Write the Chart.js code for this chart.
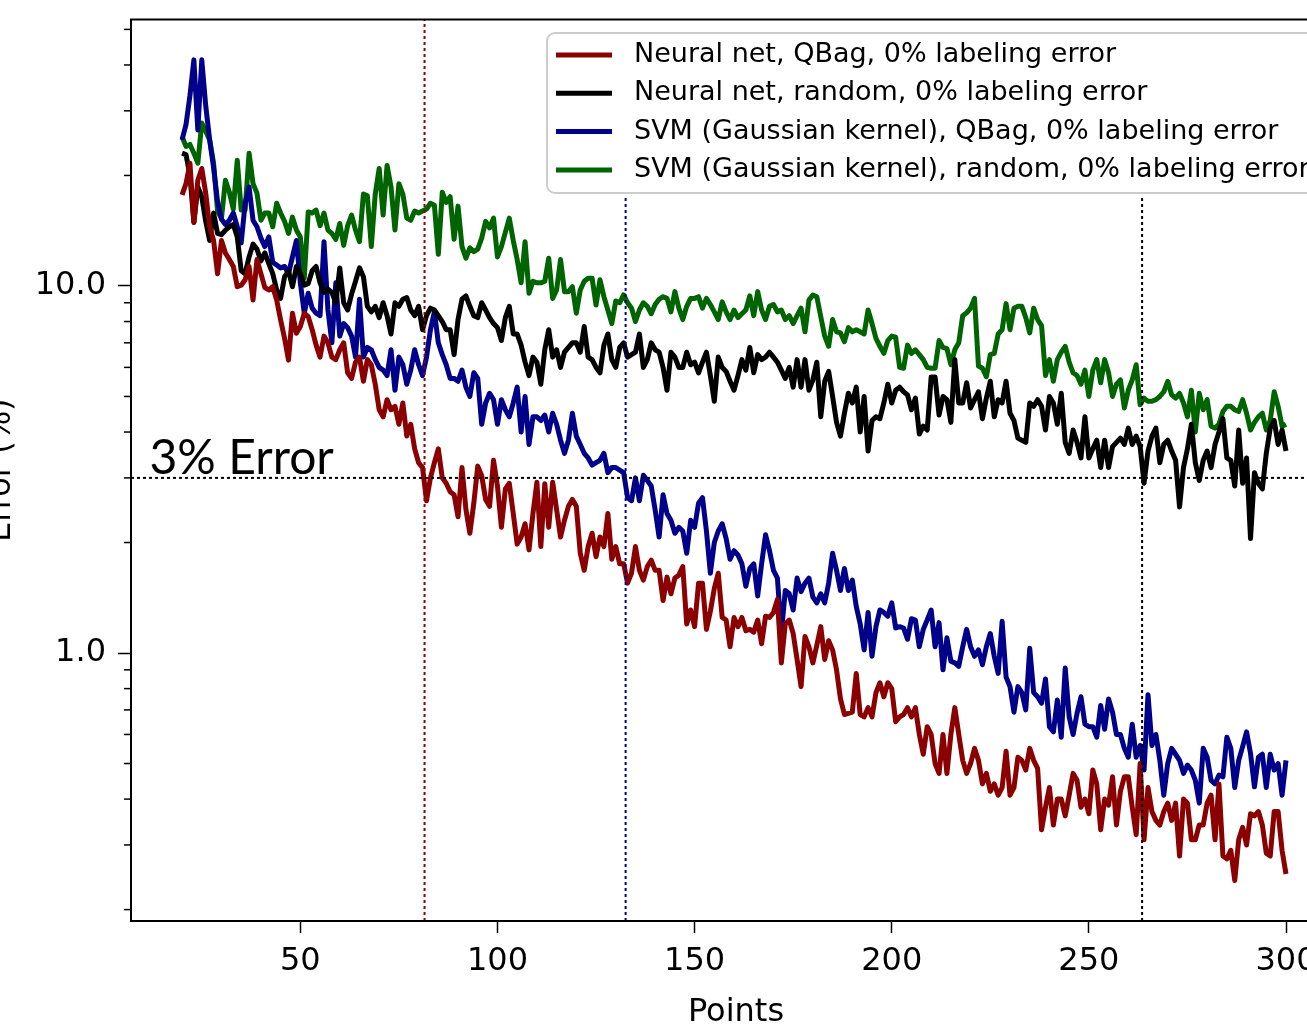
<!doctype html>
<html lang="en">
<head>
    <meta charset="utf-8">
    <title>Error vs points</title>
    <script src="https://cdn.jsdelivr.net/npm/chart.js@4.4.0/dist/chart.umd.min.js"></script>
    <style>
        html, body { margin: 0; padding: 0; background: #fff; overflow: hidden; }
        #wrap { position: absolute; left: -40px; top: 0; width: 1400px; height: 1026px; }
    </style>
</head>
<body>
<div id="wrap"><canvas id="myChart"></canvas></div>
<script type="text/javascript">
    // x = number of points, one value per point from 20 to 300
    const firstPoint = 20

    const nnQBag = [
        17.7, 19.0, 21.6, 14.9, 19.4, 20.9, 17.9, 14.5, 13.3, 10.8,
        13.3, 12.3, 11.8, 11.3, 9.95, 10.05, 10.4, 11.3, 9.16, 11.8,
        10.8, 9.9, 9.75, 9.95, 9.16, 8.08, 7.2, 6.28, 8.43, 7.43,
        7.75, 8.43, 8.25, 7.6, 6.9, 6.4, 7.3, 7.0, 6.4, 6.3,
        6.7, 7.0, 5.8, 5.6, 6.2, 6.4, 5.5, 6.3, 6.1, 5.4,
        4.6, 4.4, 4.9, 4.6, 4.7, 4.2, 4.8, 3.9, 4.2, 3.6,
        3.3, 3.2, 2.6, 3.0, 3.3, 3.6, 3.0, 2.9, 2.75, 2.7,
        2.35, 3.2, 2.46, 2.12, 2.56, 3.23, 3.04, 2.62, 2.51, 3.35,
        2.85, 2.2, 2.8, 2.9, 2.4, 1.98, 2.07, 2.25, 1.91, 2.4,
        2.92, 1.95, 2.89, 2.2, 2.92, 2.46, 2.07, 2.3, 2.51, 2.62,
        2.51, 1.87, 1.68, 1.95, 2.12, 1.83, 2.07, 1.95, 2.4, 1.8,
        1.95, 1.75, 1.75, 1.55, 1.65, 1.95, 1.68, 1.58, 1.72, 1.79,
        1.68, 1.68, 1.39, 1.61, 1.45, 1.6, 1.63, 1.72, 1.2, 1.31,
        1.18, 1.55, 1.55, 1.16, 1.3, 1.5, 1.65, 1.25, 1.23, 1.04,
        1.25, 1.18, 1.25, 1.15, 1.16, 1.14, 1.23, 1.06, 1.26, 1.25,
        1.29, 1.4, 0.94, 1.2, 1.23, 1.13, 0.96, 0.81, 1.11, 1.04,
        0.94, 1.05, 1.18, 0.96, 1.08, 1.02, 0.9, 0.75, 0.68, 0.685,
        0.69, 0.88, 0.68, 0.67, 0.71, 0.67, 0.78, 0.83, 0.76, 0.83,
        0.8, 0.65, 0.67, 0.68, 0.71, 0.67, 0.71, 0.6, 0.53, 0.63,
        0.6, 0.5, 0.47, 0.6, 0.47, 0.6, 0.71, 0.6, 0.51, 0.47,
        0.5, 0.55, 0.51, 0.44, 0.47, 0.42, 0.44, 0.41, 0.43, 0.54,
        0.41, 0.43, 0.52, 0.51, 0.48, 0.55, 0.51, 0.485, 0.33, 0.38,
        0.43, 0.34, 0.4, 0.4, 0.36, 0.41, 0.47, 0.45, 0.38, 0.4,
        0.365, 0.48, 0.44, 0.33, 0.4, 0.385, 0.46, 0.34, 0.42, 0.46,
        0.46, 0.38, 0.32, 0.5, 0.31, 0.43, 0.37, 0.35, 0.34, 0.37,
        0.39, 0.35, 0.39, 0.28, 0.4, 0.39, 0.31, 0.31, 0.34, 0.34,
        0.39, 0.41, 0.31, 0.44, 0.28, 0.275, 0.29, 0.24, 0.31, 0.335,
        0.3, 0.365, 0.36, 0.37, 0.34, 0.285, 0.28, 0.37, 0.37, 0.29,
        0.25
    ]

    const nnRandom = [
        23.0, 22.8, 20.0, 14.9, 18.6, 17.5, 15.0, 13.3, 15.8, 13.9,
        13.8, 14.2, 14.5, 14.7, 13.6, 11.0, 10.8, 12.0, 13.0, 12.6,
        11.7, 12.3, 11.5, 10.8, 9.75, 9.25, 10.6, 11.0, 9.95, 11.3,
        10.8, 10.05, 10.15, 11.0, 11.3, 10.2, 9.6, 9.8, 9.6, 9.0,
        11.2, 9.0, 8.6, 9.5, 10.3, 11.2, 10.6, 8.8, 8.5, 8.8,
        8.2, 9.0, 8.3, 7.4, 9.0, 8.8, 9.2, 9.3, 8.6, 8.3,
        8.8, 7.6, 8.3, 8.7, 8.6, 8.3, 8.0, 7.6, 7.6, 6.5,
        8.1, 9.2, 9.4, 8.8, 8.3, 8.2, 9.0, 8.6, 8.2, 7.9,
        7.7, 7.1, 8.2, 8.8, 7.4, 7.4, 6.9, 6.2, 5.7, 6.4,
        6.2, 5.4, 6.7, 7.6, 6.4, 6.7, 6.0, 6.6, 6.8, 7.0,
        7.0, 6.6, 7.75, 6.4, 6.3, 6.0, 5.8, 6.9, 7.4, 6.3,
        6.0, 6.8, 7.0, 6.4, 6.5, 6.6, 7.4, 6.0, 6.3, 7.0,
        6.7, 6.6, 6.0, 5.2, 6.6, 6.4, 6.0, 6.0, 6.6, 6.1,
        6.2, 5.8, 6.2, 6.6, 5.7, 4.85, 6.4, 6.0, 5.85, 5.5,
        5.2, 5.7, 6.3, 5.9, 6.8, 5.8, 6.5, 6.3, 6.4, 6.6,
        6.4, 6.2, 5.9, 5.6, 6.0, 5.3, 6.3, 5.3, 6.3, 5.2,
        5.55, 6.2, 4.4, 5.5, 5.85, 5.0, 4.25, 3.9, 4.5, 5.1,
        4.8, 5.3, 4.0, 5.0, 3.55, 4.3, 4.4, 4.35, 4.8, 5.4,
        4.8, 5.2, 5.3, 5.15, 5.05, 4.6, 4.95, 3.95, 4.15, 4.05,
        5.65, 5.65, 4.45, 5.0, 4.9, 4.25, 6.3, 4.8, 4.8, 5.45,
        4.65, 4.9, 5.15, 4.35, 4.95, 5.5, 4.4, 4.9, 4.8, 5.5,
        4.5, 4.3, 3.85, 3.8, 3.75, 4.8, 4.7, 4.9, 4.7, 4.05,
        5.0, 4.8, 4.2, 5.1, 3.75, 3.5, 4.05, 3.75, 3.4, 4.4,
        3.4, 3.6, 3.8, 3.2, 3.8, 3.2, 3.65, 3.75, 3.85, 3.7,
        4.1, 3.7, 3.9, 3.65, 2.9, 3.55, 3.9, 4.1, 3.3, 3.7,
        3.8, 3.55, 3.35, 2.5, 3.2, 3.6, 4.2, 3.3, 2.95, 3.35,
        3.55, 3.2, 3.7, 4.0, 4.35, 3.4, 3.35, 2.85, 4.05, 2.9,
        3.4, 2.05, 3.1, 2.9, 2.8, 3.5, 4.1, 4.3, 3.7, 4.05,
        3.55
    ]

    const svmQBag = [
        25.0, 27.5, 33.0, 41.3, 26.6, 41.3, 31.0, 25.0, 21.0, 17.0,
        15.2, 14.7, 15.1, 15.8, 14.5, 13.1, 16.8, 18.6, 15.1, 14.5,
        13.5, 12.8, 13.6, 11.6, 11.4, 11.2, 11.3, 10.8, 12.0, 13.3,
        10.2, 8.43, 9.55, 8.7, 8.43, 8.3, 13.2, 8.6, 7.0, 10.2,
        7.3, 7.9, 7.7, 7.3, 6.4, 9.2, 6.4, 6.8, 6.7, 6.3,
        6.0, 5.9, 5.7, 6.7, 5.2, 6.4, 6.1, 5.4, 5.9, 6.7,
        6.1, 5.7, 6.4, 7.6, 8.5, 7.0, 6.5, 6.1, 5.6, 5.6,
        5.5, 5.9, 5.3, 5.0, 5.8, 5.6, 4.2, 4.8, 5.1, 4.9,
        4.2, 4.9, 4.6, 4.4, 4.8, 5.3, 4.0, 5.0, 3.7, 4.4,
        4.4, 4.3, 4.45, 4.0, 4.5, 4.2, 3.8, 3.5, 3.8, 4.5,
        3.9, 3.7, 3.5, 3.4, 3.25, 3.3, 3.35, 3.5, 3.1, 3.2,
        3.2, 3.15, 3.1, 2.65, 2.6, 3.0, 2.6, 3.05, 2.95, 2.85,
        2.45, 2.07, 2.7, 2.4, 2.3, 2.12, 2.2, 2.15, 1.87, 2.3,
        2.2, 2.56, 2.65, 2.15, 1.65, 2.0, 2.15, 2.25, 2.05, 1.8,
        1.9, 1.85, 1.75, 1.52, 1.7, 1.75, 1.43, 1.75, 2.1, 1.9,
        1.68, 1.6, 1.13, 1.48, 1.45, 1.31, 1.6, 1.47, 1.55, 1.6,
        1.42, 1.37, 1.45, 1.37, 1.55, 1.87, 1.68, 1.48, 1.7, 1.48,
        1.58, 1.34, 1.2, 1.02, 1.29, 0.98, 1.18, 1.31, 1.29, 1.26,
        1.37, 1.17, 1.18, 1.17, 1.09, 1.24, 1.23, 1.04, 1.16, 1.23,
        1.31, 1.04, 1.21, 0.9, 1.1, 0.95, 0.94, 0.92, 1.04, 1.16,
        1.04, 0.98, 1.02, 0.93, 1.04, 1.13, 0.98, 0.88, 1.22, 0.86,
        0.81, 0.69, 0.81, 0.78, 0.7, 1.03, 0.78, 0.76, 0.73, 0.85,
        0.63, 0.61, 0.745, 0.59, 0.91, 0.67, 0.6, 0.685, 0.76, 0.64,
        0.63, 0.63, 0.59, 0.72, 0.62, 0.75, 0.69, 0.6, 0.6, 0.55,
        0.52, 0.64, 0.52, 0.56, 0.48, 0.77, 0.56, 0.6, 0.51, 0.41,
        0.5, 0.55, 0.53, 0.51, 0.47, 0.495, 0.48, 0.45, 0.39, 0.55,
        0.52, 0.45, 0.44, 0.465, 0.46, 0.59, 0.55, 0.43, 0.51, 0.556,
        0.61, 0.533, 0.432, 0.52, 0.53, 0.43, 0.53, 0.48, 0.5, 0.41,
        0.51
    ]

    const svmRandom = [
        25.5, 24.0, 24.3, 23.0, 21.6, 27.8, 26.4, 25.0, 21.6, 16.0,
        15.3, 19.4, 18.0, 16.2, 22.0, 16.1, 16.1, 23.0, 19.0, 17.9,
        15.1, 15.8, 15.8, 14.5, 16.8, 15.8, 15.0, 13.9, 15.4, 14.2,
        13.6, 10.5, 15.9, 15.8, 16.1, 14.6, 15.8, 14.2, 13.9, 13.4,
        14.8, 12.9, 14.6, 15.6, 14.2, 13.2, 17.8, 17.6, 12.8, 17.8,
        20.9, 15.6, 21.3, 18.6, 14.2, 19.0, 17.8, 15.3, 15.1, 16.0,
        15.8, 16.0, 16.2, 16.8, 16.6, 12.2, 18.0, 16.9, 17.5, 13.4,
        16.5, 12.8, 11.9, 12.7, 12.4, 12.6, 13.5, 15.0, 14.4, 15.3,
        12.0, 12.8, 14.0, 15.3, 13.3, 11.8, 10.2, 13.2, 9.55, 10.3,
        10.2, 10.2, 10.3, 11.9, 9.25, 9.75, 11.8, 9.65, 9.65, 9.95,
        8.43, 9.75, 10.3, 10.5, 10.5, 8.87, 10.4, 9.35, 8.6, 7.9,
        9.1, 9.0, 9.45, 9.0, 8.7, 8.0, 8.6, 9.0, 8.8, 8.4,
        8.9, 9.2, 9.35, 9.25, 8.5, 9.65, 8.7, 8.1, 8.8, 9.25,
        9.25, 9.35, 8.7, 9.25, 8.9, 8.5, 8.1, 9.05, 8.5, 8.1,
        8.6, 8.2, 8.4, 8.6, 9.4, 8.3, 9.65, 8.6, 8.1, 8.8,
        8.9, 8.5, 8.6, 8.1, 8.3, 7.9, 8.3, 8.7, 7.5, 9.15,
        9.45, 9.35, 8.25, 7.3, 6.85, 8.1, 7.5, 7.45, 7.05, 7.7,
        7.5, 7.6, 7.5, 7.4, 8.6, 7.9, 7.2, 6.85, 6.55, 7.1,
        7.3, 7.25, 6.0, 5.97, 6.9, 6.55, 6.7, 6.5, 6.3, 6.0,
        5.97, 5.97, 7.1, 6.8, 6.75, 6.1, 6.7, 7.0, 8.3, 8.45,
        8.7, 9.25, 6.05, 5.97, 5.66, 6.5, 6.55, 7.4, 7.6, 8.95,
        7.6, 8.7, 8.8, 8.8, 8.2, 7.45, 8.7, 8.1, 7.8, 5.7,
        6.3, 5.5, 6.3, 6.6, 6.85, 6.2, 5.8, 5.7, 5.4, 5.9,
        5.0, 5.9, 6.3, 5.45, 6.3, 5.8, 5.0, 5.4, 5.55, 4.65,
        5.2, 5.55, 6.1, 4.75, 4.95, 4.85, 4.85, 4.9, 5.0, 5.15,
        5.5, 5.05, 4.95, 5.1, 4.8, 4.4, 5.2, 4.0, 5.1, 4.6,
        4.9, 4.15, 4.1, 4.2, 4.55, 4.7, 4.7, 4.6, 4.55, 4.9,
        4.5, 4.05, 4.25, 4.4, 4.5, 4.05, 4.3, 5.15, 4.7, 4.15,
        4.2
    ]

    const seriesLabels = [
        'Neural net, QBag, 0% labeling error',
        'Neural net, random, 0% labeling error',
        'SVM (Gaussian kernel), QBag, 0% labeling error',
        'SVM (Gaussian kernel), random, 0% labeling error'
    ]
    const seriesColors = ['#8b0000', '#000000', '#00008b', '#006400']

    // where each curve drops under the 3% line
    const errorThreshold = 3
    const thresholdText = '3% Error'
    const thresholdTextAt = 11.75
    const crossPoints = [81.5, 132.5, 263.5]
    const crossTops = [53.2, 17.7, 17.7]
    const crossColors = ['#8b0000', '#00008b', '#000000']

    const xRange = [7.05, 313.95]
    const yRange = [0.1862, 53.2]
    const xTickValues = [50, 100, 150, 200, 250, 300]
    const yTickValues = [1, 10]
    const yMinorTicks = [0.2, 0.3, 0.4, 0.5, 0.6, 0.7, 0.8, 0.9, 2, 3, 4, 5, 6, 7, 8, 9, 20, 30, 40, 50]

    const pointCounts = nnQBag.map((_, i) => firstPoint + i)
    const allSeries = [nnQBag, nnRandom, svmQBag, svmRandom]

    const datasets = allSeries.map((values, i) => ({
        label: seriesLabels[i],
        data: values,
        borderColor: seriesColors[i],
        backgroundColor: seriesColors[i],
        borderWidth: 5,
        order: i + 1
    }))
    datasets.push({
        label: '',
        isGuide: true,
        data: [{x: xRange[0], y: errorThreshold}, {x: xRange[1], y: errorThreshold}],
        borderColor: '#000',
        borderWidth: 2,
        borderDash: [3, 3],
        order: 0
    })
    crossPoints.forEach((p, i) => {
        datasets.push({
            label: '',
            isGuide: true,
            data: [{x: p, y: yRange[0]}, {x: p, y: crossTops[i]}],
            borderColor: crossColors[i],
            borderWidth: 2,
            borderDash: [3, 3],
            order: 0
        })
    })

    const tickFont = {family: 'DejaVu Sans', size: 32}

    const decorations = {
        id: 'decorations',
        afterDatasetsDraw(chart) {
            const {ctx, chartArea, scales: {x, y}} = chart
            ctx.save()
            // threshold text
            ctx.font = '48px Lato'
            ctx.fillStyle = '#000'
            ctx.textBaseline = 'alphabetic'
            ctx.fillText(thresholdText, x.getPixelForValue(thresholdTextAt), y.getPixelForValue(errorThreshold) - 4)

            // legend box
            const left = 587, top = 33
            ctx.beginPath()
            ctx.roundRect(left, top, 820, 160, 8)
            ctx.fillStyle = 'rgba(255,255,255,0.8)'
            ctx.fill()
            ctx.strokeStyle = '#cccccc'
            ctx.lineWidth = 2
            ctx.stroke()
            ctx.font = '27px "DejaVu Sans"'
            ctx.textBaseline = 'middle'
            chart.data.datasets.filter(d => !d.isGuide).forEach((d, i) => {
                const rowY = 55 + i * 38.3
                ctx.strokeStyle = d.borderColor
                ctx.lineWidth = 5
                ctx.beginPath()
                ctx.moveTo(left + 9, rowY)
                ctx.lineTo(left + 65, rowY)
                ctx.stroke()
                ctx.fillStyle = '#000'
                ctx.fillText(d.label, left + 87, rowY)
            })

            // frame and minor ticks
            ctx.strokeStyle = '#000'
            ctx.lineWidth = 2
            ctx.strokeRect(chartArea.left, chartArea.top, chartArea.right - chartArea.left, chartArea.bottom - chartArea.top)
            ctx.lineWidth = 1.5
            yMinorTicks.forEach(v => {
                const py = y.getPixelForValue(v)
                ctx.beginPath()
                ctx.moveTo(chartArea.left - 7, py)
                ctx.lineTo(chartArea.left, py)
                ctx.stroke()
            })
            ctx.restore()
        }
    }

    const ctx = document.getElementById('myChart')
    const myChart = new Chart(ctx, {
        type: 'line',
        data: {labels: pointCounts, datasets: datasets},
        options: {
            responsive: true,
            maintainAspectRatio: false,
            animation: false,
            devicePixelRatio: 1,
            layout: {padding: {left: 0, top: 19.5, right: 19, bottom: 0}},
            elements: {
                point: {radius: 0},
                line: {tension: 0, borderJoinStyle: 'round'}
            },
            plugins: {
                legend: {display: false},
                tooltip: {enabled: false}
            },
            scales: {
                x: {
                    type: 'linear',
                    min: xRange[0],
                    max: xRange[1],
                    afterBuildTicks: (axis) => { axis.ticks = xTickValues.map(v => ({value: v})) },
                    afterFit: (axis) => {
                        axis.height = 105
                        axis.paddingLeft = 0
                        axis.paddingRight = 0
                    },
                    ticks: {color: '#000', font: tickFont, padding: 9, autoSkip: false, maxRotation: 0,
                        callback: (v) => String(v)},
                    grid: {drawOnChartArea: false, drawTicks: true, tickLength: 12, tickWidth: 1.5, tickColor: '#000'},
                    border: {display: true, color: '#000', width: 2},
                    title: {display: true, text: 'Points', color: '#000', font: tickFont, padding: {top: 0, bottom: -6}}
                },
                y: {
                    type: 'logarithmic',
                    min: yRange[0],
                    max: yRange[1],
                    afterBuildTicks: (axis) => { axis.ticks = yTickValues.map(v => ({value: v})) },
                    afterFit: (axis) => {
                        axis.width = 171
                        axis.paddingTop = 0
                        axis.paddingBottom = 0
                    },
                    ticks: {color: '#000', font: tickFont, padding: 12, autoSkip: false,
                        callback: (v) => Number(v).toFixed(1)},
                    grid: {drawOnChartArea: false, drawTicks: true, tickLength: 13, tickWidth: 1.5, tickColor: '#000'},
                    border: {display: true, color: '#000', width: 2},
                    title: {display: true, text: 'Error (%)', color: '#000', font: tickFont, padding: {top: 22, bottom: 0}}
                }
            }
        },
        plugins: [decorations]
    })
</script>
</body>
</html>
